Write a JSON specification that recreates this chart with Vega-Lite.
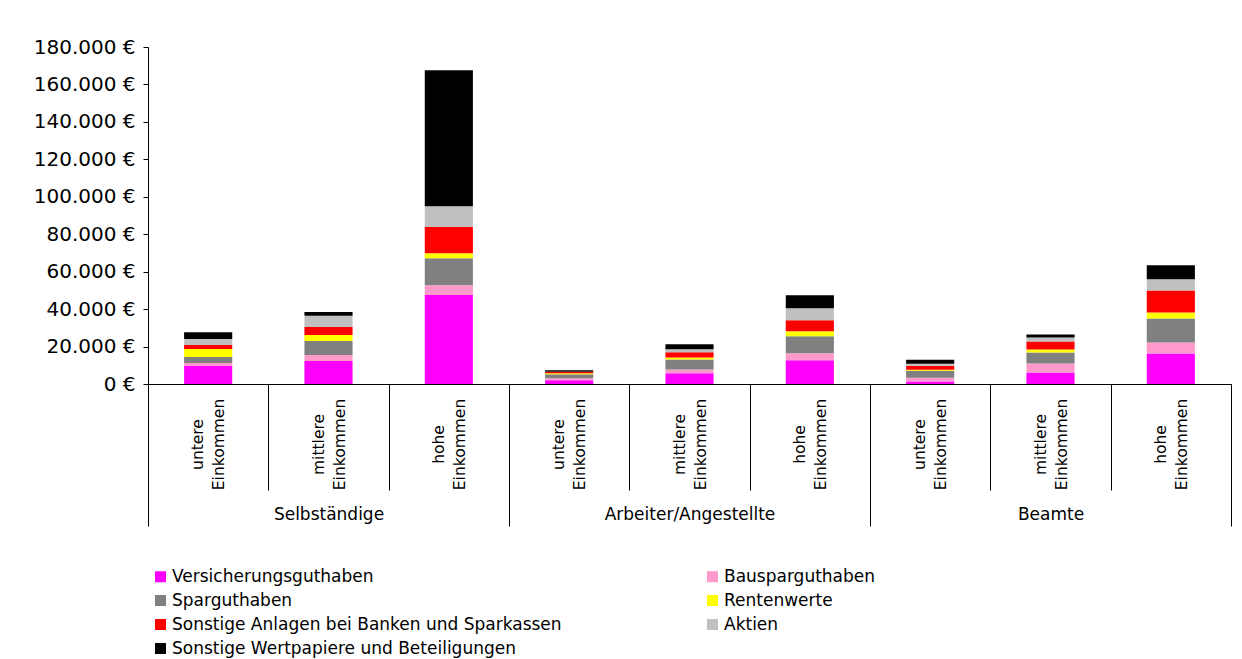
{
  "$schema": "https://vega.github.io/schema/vega-lite/v6.json",
  "width": 1083,
  "height": 337,
  "autosize": {"type": "none"},
  "padding": {"left": 148, "top": 47, "right": 11, "bottom": 275},
  "background": "white",
  "config": {
    "font": "DejaVu Sans",
    "view": {"stroke": null},
    "axis": {"domainColor": "black", "tickColor": "black", "labelColor": "black", "grid": false, "domainWidth": 1, "tickWidth": 1}
  },
  "data": {
    "values": [
      {"g": "Selbständige", "cat": "Selbständige untere Einkommen", "k": 1, "t": "Versicherungsguthaben", "v": 9600},
      {"g": "Selbständige", "cat": "Selbständige untere Einkommen", "k": 2, "t": "Bausparguthaben", "v": 1600},
      {"g": "Selbständige", "cat": "Selbständige untere Einkommen", "k": 3, "t": "Sparguthaben", "v": 3200},
      {"g": "Selbständige", "cat": "Selbständige untere Einkommen", "k": 4, "t": "Rentenwerte", "v": 4300},
      {"g": "Selbständige", "cat": "Selbständige untere Einkommen", "k": 5, "t": "Sonstige Anlagen bei Banken und Sparkassen", "v": 2100},
      {"g": "Selbständige", "cat": "Selbständige untere Einkommen", "k": 6, "t": "Aktien", "v": 3200},
      {"g": "Selbständige", "cat": "Selbständige untere Einkommen", "k": 7, "t": "Sonstige Wertpapiere und Beteiligungen", "v": 3700},
      {"g": "Selbständige", "cat": "Selbständige mittlere Einkommen", "k": 1, "t": "Versicherungsguthaben", "v": 12300},
      {"g": "Selbständige", "cat": "Selbständige mittlere Einkommen", "k": 2, "t": "Bausparguthaben", "v": 3200},
      {"g": "Selbständige", "cat": "Selbständige mittlere Einkommen", "k": 3, "t": "Sparguthaben", "v": 7500},
      {"g": "Selbständige", "cat": "Selbständige mittlere Einkommen", "k": 4, "t": "Rentenwerte", "v": 3200},
      {"g": "Selbständige", "cat": "Selbständige mittlere Einkommen", "k": 5, "t": "Sonstige Anlagen bei Banken und Sparkassen", "v": 4300},
      {"g": "Selbständige", "cat": "Selbständige mittlere Einkommen", "k": 6, "t": "Aktien", "v": 5900},
      {"g": "Selbständige", "cat": "Selbständige mittlere Einkommen", "k": 7, "t": "Sonstige Wertpapiere und Beteiligungen", "v": 2100},
      {"g": "Selbständige", "cat": "Selbständige hohe Einkommen", "k": 1, "t": "Versicherungsguthaben", "v": 47500},
      {"g": "Selbständige", "cat": "Selbständige hohe Einkommen", "k": 2, "t": "Bausparguthaben", "v": 5300},
      {"g": "Selbständige", "cat": "Selbständige hohe Einkommen", "k": 3, "t": "Sparguthaben", "v": 14400},
      {"g": "Selbständige", "cat": "Selbständige hohe Einkommen", "k": 4, "t": "Rentenwerte", "v": 2700},
      {"g": "Selbständige", "cat": "Selbständige hohe Einkommen", "k": 5, "t": "Sonstige Anlagen bei Banken und Sparkassen", "v": 13900},
      {"g": "Selbständige", "cat": "Selbständige hohe Einkommen", "k": 6, "t": "Aktien", "v": 11200},
      {"g": "Selbständige", "cat": "Selbständige hohe Einkommen", "k": 7, "t": "Sonstige Wertpapiere und Beteiligungen", "v": 72600},
      {"g": "Arbeiter/Angestellte", "cat": "Arbeiter/Angestellte untere Einkommen", "k": 1, "t": "Versicherungsguthaben", "v": 2000},
      {"g": "Arbeiter/Angestellte", "cat": "Arbeiter/Angestellte untere Einkommen", "k": 2, "t": "Bausparguthaben", "v": 1100},
      {"g": "Arbeiter/Angestellte", "cat": "Arbeiter/Angestellte untere Einkommen", "k": 3, "t": "Sparguthaben", "v": 2100},
      {"g": "Arbeiter/Angestellte", "cat": "Arbeiter/Angestellte untere Einkommen", "k": 4, "t": "Rentenwerte", "v": 500},
      {"g": "Arbeiter/Angestellte", "cat": "Arbeiter/Angestellte untere Einkommen", "k": 5, "t": "Sonstige Anlagen bei Banken und Sparkassen", "v": 700},
      {"g": "Arbeiter/Angestellte", "cat": "Arbeiter/Angestellte untere Einkommen", "k": 6, "t": "Aktien", "v": 200},
      {"g": "Arbeiter/Angestellte", "cat": "Arbeiter/Angestellte untere Einkommen", "k": 7, "t": "Sonstige Wertpapiere und Beteiligungen", "v": 700},
      {"g": "Arbeiter/Angestellte", "cat": "Arbeiter/Angestellte mittlere Einkommen", "k": 1, "t": "Versicherungsguthaben", "v": 5700},
      {"g": "Arbeiter/Angestellte", "cat": "Arbeiter/Angestellte mittlere Einkommen", "k": 2, "t": "Bausparguthaben", "v": 2100},
      {"g": "Arbeiter/Angestellte", "cat": "Arbeiter/Angestellte mittlere Einkommen", "k": 3, "t": "Sparguthaben", "v": 5300},
      {"g": "Arbeiter/Angestellte", "cat": "Arbeiter/Angestellte mittlere Einkommen", "k": 4, "t": "Rentenwerte", "v": 1100},
      {"g": "Arbeiter/Angestellte", "cat": "Arbeiter/Angestellte mittlere Einkommen", "k": 5, "t": "Sonstige Anlagen bei Banken und Sparkassen", "v": 2700},
      {"g": "Arbeiter/Angestellte", "cat": "Arbeiter/Angestellte mittlere Einkommen", "k": 6, "t": "Aktien", "v": 1600},
      {"g": "Arbeiter/Angestellte", "cat": "Arbeiter/Angestellte mittlere Einkommen", "k": 7, "t": "Sonstige Wertpapiere und Beteiligungen", "v": 2700},
      {"g": "Arbeiter/Angestellte", "cat": "Arbeiter/Angestellte hohe Einkommen", "k": 1, "t": "Versicherungsguthaben", "v": 12700},
      {"g": "Arbeiter/Angestellte", "cat": "Arbeiter/Angestellte hohe Einkommen", "k": 2, "t": "Bausparguthaben", "v": 3700},
      {"g": "Arbeiter/Angestellte", "cat": "Arbeiter/Angestellte hohe Einkommen", "k": 3, "t": "Sparguthaben", "v": 9100},
      {"g": "Arbeiter/Angestellte", "cat": "Arbeiter/Angestellte hohe Einkommen", "k": 4, "t": "Rentenwerte", "v": 2700},
      {"g": "Arbeiter/Angestellte", "cat": "Arbeiter/Angestellte hohe Einkommen", "k": 5, "t": "Sonstige Anlagen bei Banken und Sparkassen", "v": 5900},
      {"g": "Arbeiter/Angestellte", "cat": "Arbeiter/Angestellte hohe Einkommen", "k": 6, "t": "Aktien", "v": 6400},
      {"g": "Arbeiter/Angestellte", "cat": "Arbeiter/Angestellte hohe Einkommen", "k": 7, "t": "Sonstige Wertpapiere und Beteiligungen", "v": 6900},
      {"g": "Beamte", "cat": "Beamte untere Einkommen", "k": 1, "t": "Versicherungsguthaben", "v": 1300},
      {"g": "Beamte", "cat": "Beamte untere Einkommen", "k": 2, "t": "Bausparguthaben", "v": 2100},
      {"g": "Beamte", "cat": "Beamte untere Einkommen", "k": 3, "t": "Sparguthaben", "v": 3700},
      {"g": "Beamte", "cat": "Beamte untere Einkommen", "k": 4, "t": "Rentenwerte", "v": 500},
      {"g": "Beamte", "cat": "Beamte untere Einkommen", "k": 5, "t": "Sonstige Anlagen bei Banken und Sparkassen", "v": 2100},
      {"g": "Beamte", "cat": "Beamte untere Einkommen", "k": 6, "t": "Aktien", "v": 1100},
      {"g": "Beamte", "cat": "Beamte untere Einkommen", "k": 7, "t": "Sonstige Wertpapiere und Beteiligungen", "v": 2100},
      {"g": "Beamte", "cat": "Beamte mittlere Einkommen", "k": 1, "t": "Versicherungsguthaben", "v": 6100},
      {"g": "Beamte", "cat": "Beamte mittlere Einkommen", "k": 2, "t": "Bausparguthaben", "v": 4800},
      {"g": "Beamte", "cat": "Beamte mittlere Einkommen", "k": 3, "t": "Sparguthaben", "v": 5900},
      {"g": "Beamte", "cat": "Beamte mittlere Einkommen", "k": 4, "t": "Rentenwerte", "v": 1600},
      {"g": "Beamte", "cat": "Beamte mittlere Einkommen", "k": 5, "t": "Sonstige Anlagen bei Banken und Sparkassen", "v": 4300},
      {"g": "Beamte", "cat": "Beamte mittlere Einkommen", "k": 6, "t": "Aktien", "v": 2100},
      {"g": "Beamte", "cat": "Beamte mittlere Einkommen", "k": 7, "t": "Sonstige Wertpapiere und Beteiligungen", "v": 1600},
      {"g": "Beamte", "cat": "Beamte hohe Einkommen", "k": 1, "t": "Versicherungsguthaben", "v": 16300},
      {"g": "Beamte", "cat": "Beamte hohe Einkommen", "k": 2, "t": "Bausparguthaben", "v": 5900},
      {"g": "Beamte", "cat": "Beamte hohe Einkommen", "k": 3, "t": "Sparguthaben", "v": 12800},
      {"g": "Beamte", "cat": "Beamte hohe Einkommen", "k": 4, "t": "Rentenwerte", "v": 3200},
      {"g": "Beamte", "cat": "Beamte hohe Einkommen", "k": 5, "t": "Sonstige Anlagen bei Banken und Sparkassen", "v": 11800},
      {"g": "Beamte", "cat": "Beamte hohe Einkommen", "k": 6, "t": "Aktien", "v": 5900},
      {"g": "Beamte", "cat": "Beamte hohe Einkommen", "k": 7, "t": "Sonstige Wertpapiere und Beteiligungen", "v": 7500}
    ]
  },
  "layer": [
    {
      "mark": {"type": "bar", "width": {"band": 0.4}},
      "encoding": {
        "x": {
          "field": "cat",
          "type": "nominal",
          "sort": ["Selbständige untere Einkommen", "Selbständige mittlere Einkommen", "Selbständige hohe Einkommen", "Arbeiter/Angestellte untere Einkommen", "Arbeiter/Angestellte mittlere Einkommen", "Arbeiter/Angestellte hohe Einkommen", "Beamte untere Einkommen", "Beamte mittlere Einkommen", "Beamte hohe Einkommen"],
          "scale": {"paddingInner": 0, "paddingOuter": 0},
          "axis": {
            "orient": "bottom",
            "title": null,
            "tickBand": "extent",
            "tickSize": 106,
            "labelAngle": -90,
            "labelAlign": "center",
            "labelBaseline": "middle",
            "labelPadding": -46,
            "labelOffset": -10.5,
            "labelOverlap": false,
            "labelExpr": "slice(split(datum.label, ' '), -2)",
            "labelFontSize": 15.5,
            "labelLineHeight": 21,
            "labelLimit": 300
          }
        },
        "y": {
          "field": "v",
          "type": "quantitative",
          "stack": "zero",
          "scale": {"domain": [0, 180000], "nice": false},
          "axis": {
            "title": null,
            "values": [0, 20000, 40000, 60000, 80000, 100000, 120000, 140000, 160000, 180000],
            "labelExpr": "replace(format(datum.value, ',.0f'), regexp(',', 'g'), '.') + ' €'",
            "labelFontSize": 20,
            "tickSize": 5,
            "labelPadding": 8
          }
        },
        "color": {
          "field": "t",
          "type": "nominal",
          "scale": {
            "domain": ["Versicherungsguthaben", "Bausparguthaben", "Sparguthaben", "Rentenwerte", "Sonstige Anlagen bei Banken und Sparkassen", "Aktien", "Sonstige Wertpapiere und Beteiligungen"],
            "range": ["#FF00FF", "#FF99CC", "#808080", "#FFFF00", "#FF0000", "#C0C0C0", "#000000"]
          },
          "legend": {
            "title": null,
            "orient": "none",
            "legendX": 4,
            "legendY": 521,
            "columns": 2,
            "columnPadding": 142,
            "rowPadding": 6,
            "values": ["Versicherungsguthaben", "Sparguthaben", "Sonstige Anlagen bei Banken und Sparkassen", "Sonstige Wertpapiere und Beteiligungen", "Bausparguthaben", "Rentenwerte", "Aktien"],
            "symbolType": "square",
            "symbolSize": 121,
            "symbolStrokeWidth": 0,
            "symbolOpacity": 1,
            "labelFontSize": 17,
            "labelLimit": 600,
            "labelOffset": 3,
            "labelColor": "black"
          }
        },
        "order": {"field": "k", "type": "quantitative"}
      }
    },
    {
      "mark": {"type": "point", "opacity": 0},
      "encoding": {
        "x": {
          "field": "g",
          "type": "nominal",
          "sort": ["Selbständige", "Arbeiter/Angestellte", "Beamte"],
          "scale": {"paddingInner": 0, "paddingOuter": 0},
          "axis": {
            "orient": "bottom",
            "title": null,
            "tickBand": "extent",
            "tickSize": 142,
            "labelAngle": 0,
            "labelBaseline": "middle",
            "labelPadding": -12,
            "labelFontSize": 17,
            "domain": false
          }
        }
      }
    }
  ],
  "resolve": {"scale": {"x": "independent"}, "axis": {"x": "independent"}}
}
